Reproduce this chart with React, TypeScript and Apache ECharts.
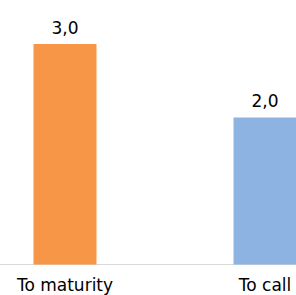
import React, { useEffect, useRef } from "react";
import * as echarts from "echarts";

const categories = ["To maturity", "To call"];
const values = [3.0, 2.0];
const colors = ["#F79646", "#8DB3E2"];

export default function App() {
  const ref = useRef<HTMLDivElement>(null);
  useEffect(() => {
    if (!ref.current) return;
    const chart = echarts.init(ref.current, null, { renderer: "svg" });
    chart.setOption({
      animation: false,
      grid: { left: 0, right: 0, top: 44, bottom: 30.5 },
      xAxis: {
        type: "category",
        data: categories,
        axisLine: { show: true, lineStyle: { color: "#D9D9D9", width: 1 } },
        axisTick: { show: false },
        axisLabel: {
          color: "#000",
          fontFamily: "DejaVu Sans",
          fontSize: 17,
          margin: 12,
          interval: 0,
        },
      },
      yAxis: {
        type: "value",
        min: 0,
        max: 3,
        show: false,
        splitLine: { show: false },
      },
      series: [
        {
          type: "bar",
          barWidth: 63,
          data: values.map((v, i) => ({ value: v, itemStyle: { color: colors[i] } })),
          label: {
            show: true,
            position: "top",
            distance: 8,
            color: "#000",
            fontFamily: "DejaVu Sans",
            fontSize: 17,
            formatter: (p: any) => Number(p.value).toFixed(1).replace(".", ","),
          },
        },
      ],
    });
    return () => chart.dispose();
  }, []);
  return (
    <div style={{ position: "absolute", left: 0, top: 0, width: 296, height: 295, overflow: "hidden" }}>
      <div ref={ref} style={{ position: "absolute", left: -35, top: 0, width: 400, height: 295 }} />
    </div>
  );
}
